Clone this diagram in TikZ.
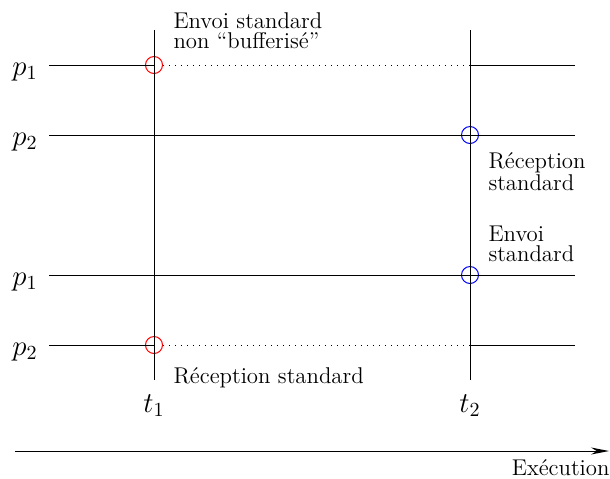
\documentclass[tikz,border=0pt]{standalone}
\usetikzlibrary{arrows.meta}
\begin{document}
\begin{tikzpicture}[x=0.5pt,y=-0.5pt,line width=0.5pt,
  redc/.style={circle,draw=red,minimum size=8.5pt,inner sep=0pt},
  bluec/.style={circle,draw=blue,minimum size=8.5pt,inner sep=0pt},
  lbl/.style={inner sep=0pt,anchor=base west,font=\fontsize{11.4}{10}\selectfont},
  lbl2/.style={inner sep=0pt,anchor=south west,align=left,font=\fontsize{11.4}{10}\selectfont},
  mlbl/.style={inner sep=0pt,anchor=base,font=\fontsize{14.5}{16}\selectfont},
  dots/.style={dash pattern=on 0.5pt off 2.5pt}]
\useasboundingbox (0,0) rectangle (610,478);
% line end points
\coordinate (l1L) at (49,65);  \coordinate (l1R) at (575,65);
\coordinate (l2L) at (49,135); \coordinate (l2R) at (575,135);
\coordinate (l3L) at (49,275); \coordinate (l3R) at (575,275);
\coordinate (l4L) at (49,345); \coordinate (l4R) at (575,345);
\coordinate (x1) at (470,65); \coordinate (x4) at (470,345);
\coordinate (t1T) at (154,30); \coordinate (t1B) at (154,380);
\coordinate (t2T) at (470,30); \coordinate (t2B) at (470,380);
\coordinate (axL) at (15,451); \coordinate (axR) at (609,451);
% circles
\node[redc] (c1) at (154,65) {};
\node[redc] (c4) at (154,345) {};
\node[bluec] (c2) at (470,135) {};
\node[bluec] (c3) at (470,275) {};
% vertical lines
\draw (t1T) -- (t1B);
\draw (t2T) -- (t2B);
% horizontal lines
\draw (l1L) -- (c1.center);
\draw[dots] (c1.east) -- (x1);
\draw (x1) -- (l1R);
\draw (l2L) -- (l2R);
\draw (l3L) -- (l3R);
\draw (l4L) -- (c4.center);
\draw[dots] (c4.east) -- (x4);
\draw (x4) -- (l4R);
% axis
\draw[-{Stealth[length=9pt,width=3.5pt]}] (axL) -- (axR);
% labels
\node[mlbl] (p1a) at (25,75) {$p_1$};
\node[mlbl] (p2a) at (25,145) {$p_2$};
\node[mlbl] (p1b) at (25,285) {$p_1$};
\node[mlbl] (p2b) at (25,355) {$p_2$};
\node[mlbl] (t1) at (154,412) {$t_1$};
\node[mlbl] (t2) at (470,412) {$t_2$};
\node[lbl2] (e1) at (173,49) {Envoi standard\\non ``bufferisé''};
\node[lbl2] (r1) at (488,191) {Réception\\standard};
\node[lbl2] (e3) at (488,262) {Envoi\\standard};
\node[lbl] (r3) at (173,383) {Réception standard};
\node[lbl,anchor=base east] (ex) at (610,475) {Exécution};
\end{tikzpicture}
\end{document}
